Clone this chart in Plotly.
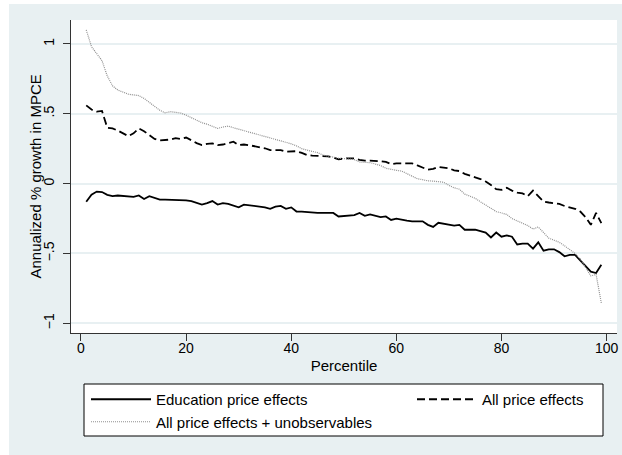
import plotly.graph_objects as go

percentile = list(range(1, 100))

education = [
    -0.13, -0.08, -0.057, -0.06, -0.08, -0.09, -0.085, -0.09, -0.09, -0.095,
    -0.085, -0.11, -0.09, -0.10, -0.115, -0.115, -0.115, -0.115, -0.12, -0.12,
    -0.125, -0.14, -0.15, -0.14, -0.125, -0.15, -0.14, -0.145, -0.155, -0.17,
    -0.15, -0.155, -0.16, -0.16, -0.17, -0.18, -0.165, -0.16, -0.18, -0.17,
    -0.20, -0.20, -0.205, -0.205, -0.21, -0.21, -0.21, -0.21, -0.235, -0.23,
    -0.23, -0.225, -0.21, -0.23, -0.22, -0.23, -0.24, -0.235, -0.26, -0.25,
    -0.26, -0.265, -0.27, -0.27, -0.27, -0.295, -0.31, -0.28, -0.285, -0.29,
    -0.30, -0.295, -0.33, -0.33, -0.33, -0.34, -0.35, -0.385, -0.35, -0.38,
    -0.37, -0.38, -0.435, -0.43, -0.43, -0.465, -0.42, -0.48, -0.47, -0.47,
    -0.49, -0.52, -0.51, -0.51, -0.55, -0.59, -0.63, -0.64, -0.58,
]

all_price = [
    0.56, 0.53, 0.515, 0.52, 0.40, 0.395, 0.38, 0.36, 0.34, 0.36,
    0.395, 0.375, 0.35, 0.32, 0.31, 0.31, 0.315, 0.325, 0.32, 0.33,
    0.31, 0.29, 0.276, 0.285, 0.288, 0.275, 0.28, 0.29, 0.30, 0.276,
    0.28, 0.275, 0.268, 0.26, 0.253, 0.24, 0.24, 0.24, 0.229, 0.232,
    0.232, 0.22, 0.205, 0.20, 0.20, 0.20, 0.195, 0.186, 0.174, 0.18,
    0.18, 0.18, 0.17, 0.164, 0.165, 0.165, 0.16, 0.155, 0.14, 0.145,
    0.145, 0.145, 0.145, 0.13, 0.115, 0.10, 0.105, 0.12, 0.115, 0.11,
    0.095, 0.09, 0.07, 0.055, 0.045, 0.033, 0.015, -0.01, -0.04, -0.045,
    -0.03, -0.05, -0.064, -0.07, -0.09, -0.05, -0.093, -0.128, -0.135, -0.14,
    -0.145, -0.16, -0.17, -0.18, -0.20, -0.24, -0.295, -0.21, -0.283,
]

all_price_unobs = [
    1.10, 0.98, 0.93, 0.88, 0.77, 0.70, 0.67, 0.655, 0.64, 0.635,
    0.63, 0.61, 0.58, 0.55, 0.525, 0.507, 0.515, 0.51, 0.505, 0.49,
    0.47, 0.45, 0.436, 0.425, 0.41, 0.395, 0.405, 0.412, 0.40, 0.39,
    0.375, 0.365, 0.355, 0.345, 0.335, 0.325, 0.317, 0.305, 0.30, 0.285,
    0.27, 0.25, 0.24, 0.232, 0.222, 0.205, 0.20, 0.19, 0.182, 0.18,
    0.178, 0.172, 0.155, 0.155, 0.15, 0.14, 0.13, 0.11, 0.10, 0.095,
    0.09, 0.07, 0.05, 0.035, 0.028, 0.02, 0.018, 0.015, 0.01, -0.012,
    -0.03, -0.04, -0.075, -0.09, -0.105, -0.13, -0.155, -0.18, -0.20, -0.21,
    -0.22, -0.25, -0.265, -0.28, -0.30, -0.325, -0.31, -0.35, -0.39, -0.405,
    -0.42, -0.445, -0.47, -0.50, -0.54, -0.60, -0.66, -0.65, -0.855,
]

x_ticks = [0, 20, 40, 60, 80, 100]
y_ticks = [-1, -0.5, 0, 0.5, 1]
y_ticktext = ["\u22121", "\u2212.5", "0", ".5", "1"]
y_title = "Annualized % growth in MPCE"
x_title = "Percentile"

FONT = "Liberation Sans, Arial, sans-serif"
BG = "#E8F0F2"
W, H = 622, 455
L, R, T, B = 71, 5, 20, 122
PW, PH = W - L - R, H - T - B


def px_x(p):
    return (p - L) / PW


def px_y(p):
    return (H - B - p) / PH


fig = go.Figure()
fig.add_trace(go.Scatter(x=percentile, y=education, mode="lines",
                         name="Education price effects",
                         line=dict(color="black", width=1.8), legend="legend"))
fig.add_trace(go.Scatter(x=percentile, y=all_price, mode="lines",
                         name="All price effects",
                         line=dict(color="black", width=1.8, dash="8px,4px"),
                         legend="legend2"))
fig.add_trace(go.Scatter(x=percentile, y=all_price_unobs, mode="lines",
                         name="All price effects + unobservables",
                         line=dict(color="#909090", width=1.2, dash="1px,1px"),
                         legend="legend"))

legend_common = dict(
    orientation="v", bgcolor="rgba(0,0,0,0)", borderwidth=0,
    font=dict(family=FONT, size=15, color="black"),
    itemwidth=60, xanchor="left", yanchor="top", tracegroupgap=0,
)

fig.update_layout(
    width=W, height=H,
    margin=dict(l=L, r=R, t=T, b=B, pad=0),
    paper_bgcolor=BG, plot_bgcolor="white",
    font=dict(family=FONT, size=14, color="black"),
    showlegend=True,
    legend=dict(x=px_x(86), y=px_y(383), **legend_common),
    legend2=dict(x=px_x(412), y=px_y(383), **legend_common),
    shapes=[
        dict(type="rect", xref="paper", yref="paper", layer="below",
             x0=px_x(-2), x1=px_x(9), y0=px_y(H + 2), y1=px_y(-2),
             fillcolor="white", line=dict(width=0)),
        dict(type="rect", xref="paper", yref="paper", layer="below",
             x0=px_x(-2), x1=px_x(W + 2), y0=px_y(4), y1=px_y(-2),
             fillcolor="white", line=dict(width=0)),
        dict(type="rect", xref="paper", yref="paper", layer="below",
             x0=px_x(84), x1=px_x(603), y0=px_y(436), y1=px_y(384),
             fillcolor="white", line=dict(color="black", width=1)),
    ],
    annotations=[
        dict(text=y_title, textangle=-90, xref="paper", yref="paper",
             x=px_x(35), y=0.5, xanchor="center", yanchor="middle",
             showarrow=False, font=dict(size=15, family=FONT, color="black")),
    ],
)

fig.update_xaxes(
    range=[-1.9, 101.98], tickvals=x_ticks, ticks="outside", ticklen=7,
    tickcolor="#333333", tickwidth=1, showline=True, linecolor="#333333",
    linewidth=1, showgrid=False, zeroline=False, ticklabelstandoff=-5,
    tickfont=dict(size=14, family=FONT),
    title=dict(text=x_title, font=dict(size=15, family=FONT), standoff=5),
)
fig.update_yaxes(
    range=[-1.069, 1.171], tickvals=y_ticks, ticktext=y_ticktext,
    tickangle=-90, ticks="outside", ticklen=7, tickcolor="#333333",
    tickwidth=1, showline=True, linecolor="#333333", linewidth=1,
    showgrid=True, gridcolor=BG, gridwidth=1.5, zeroline=False,
    ticklabelstandoff=3,
    tickfont=dict(size=14, family=FONT),
)

fig.write_html("out.html")
